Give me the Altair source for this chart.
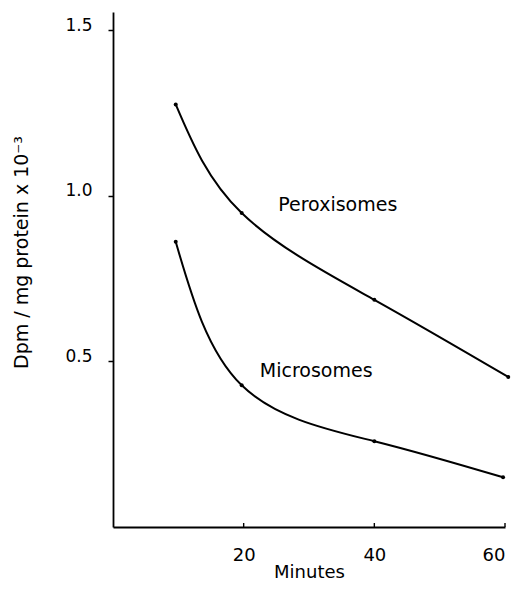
import altair as alt
import pandas as pd

# ---- data ----
series_names = ["Peroxisomes", "Microsomes"]
minutes_perox = [9.6, 19.7, 40.0, 60.5]
dpm_perox = [1.276, 0.948, 0.686, 0.453]
minutes_micro = [9.6, 19.7, 40.0, 59.7]
dpm_micro = [0.861, 0.428, 0.259, 0.150]

x_ticks = [20, 40, 60]
y_ticks = [0.5, 1.0, 1.5]

label_x = [34.4, 31.1]
label_y = [0.955, 0.454]

FONT = "DejaVu Sans"

df = pd.DataFrame({
    "minutes": minutes_perox + minutes_micro,
    "dpm": dpm_perox + dpm_micro,
    "series": [series_names[0]] * len(minutes_perox) + [series_names[1]] * len(minutes_micro),
})
labels = pd.DataFrame({"minutes": label_x, "dpm": label_y, "name": series_names})
ticks = pd.DataFrame({"minutes": x_ticks})

xscale = alt.Scale(domain=[0, 60], nice=False, zero=False)
yscale = alt.Scale(domain=[0, 1.555], nice=False, zero=False)

x_axis = alt.Axis(
    values=x_ticks, title="Minutes", ticks=False, grid=False,
    labelFont=FONT, labelFontSize=18, labelColor="black",
    labelBaseline="alphabetic", labelPadding=33,
    titleFont=FONT, titleFontSize=18, titleFontWeight="normal", titleColor="black",
    titleBaseline="alphabetic", titleY=50,
    domainColor="black", domainWidth=1.8,
)
y_axis = alt.Axis(
    values=y_ticks, format=".1f", title="Dpm / mg protein x 10⁻³", grid=False,
    tickSize=5, tickColor="black", tickWidth=1.5,
    labelFont=FONT, labelFontSize=17, labelColor="black",
    labelBaseline="alphabetic", labelPadding=16,
    titleFont=FONT, titleFontSize=19, titleFontWeight="normal", titleColor="black",
    titleBaseline="alphabetic", titleX=-86, titleY=240, titleAngle=-90, titleAlign="center",
    domainColor="black", domainWidth=1.8,
)

X = alt.X("minutes:Q", scale=xscale, axis=x_axis, title="Minutes")
Y = alt.Y("dpm:Q", scale=yscale, axis=y_axis, title="Dpm / mg protein x 10⁻³")

base = alt.Chart(df)

lines = base.mark_line(interpolate="natural", color="black", strokeWidth=2).encode(
    x=X, y=Y, detail="series:N",
)
points = base.mark_circle(color="black", size=16, opacity=1).encode(x=X, y=Y)
text = alt.Chart(labels).mark_text(
    font=FONT, fontSize=19, color="black", align="center", baseline="alphabetic"
).encode(x=X, y=Y, text="name:N")
xticks = alt.Chart(ticks).mark_rule(color="black", strokeWidth=1.4).encode(
    x=X,
    y=alt.value(515),
    y2=alt.value(511),
)

chart = alt.layer(lines, points, text, xticks).properties(
    width=392, height=515,
    autosize=alt.AutoSizeParams(type="none"),
    padding={"left": 105, "top": 4, "right": 7, "bottom": 56},
    background="white",
).configure_view(stroke=None)

chart.save("out.html", embed_options={"renderer": "svg", "actions": False})
